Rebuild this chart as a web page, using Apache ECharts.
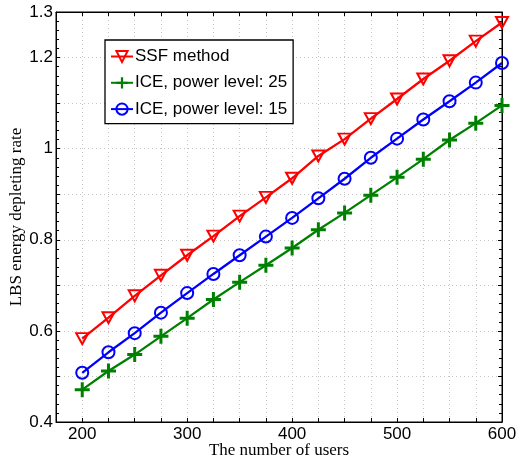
<!DOCTYPE html>
<html>
<head>
<meta charset="utf-8">
<script src="https://cdn.jsdelivr.net/npm/echarts@6/dist/echarts.min.js"></script>
<style>
html, body { margin: 0; padding: 0; background: #fff; }
#main { width: 517px; height: 459px; }
</style>
</head>
<body>
<div id="main"></div>
<script>
var chart = echarts.init(document.getElementById('main'));

// number of users (x)
var users = [200, 225, 250, 275, 300, 325, 350, 375, 400, 425, 450, 475, 500, 525, 550, 575, 600];
// LBS energy depleting rate
var ssf = [0.583, 0.629, 0.677, 0.722, 0.766, 0.808, 0.852, 0.893, 0.935, 0.984, 1.021, 1.066, 1.109, 1.153, 1.193, 1.236, 1.277];
var ice25 = [0.471, 0.512, 0.548, 0.588, 0.628, 0.669, 0.707, 0.744, 0.782, 0.822, 0.859, 0.898, 0.937, 0.977, 1.019, 1.056, 1.095];
var ice15 = [0.508, 0.553, 0.595, 0.640, 0.683, 0.725, 0.766, 0.807, 0.848, 0.891, 0.934, 0.980, 1.022, 1.064, 1.104, 1.145, 1.188];
var xTickLabels = [200, 300, 400, 500, 600];
var yTickLabels = [0.4, 0.6, 0.8, 1, 1.2, 1.3];

var sans = 'Liberation Sans, Arial, Helvetica, sans-serif';
var serif = 'Liberation Serif, Times New Roman, serif';
var plusPath = 'path://M4,0H6V4H10V6H6V10H4V6H0V4H4Z';

function pairs(ys) {
    return users.map(function (u, i) { return [u, ys[i]]; });
}

var gridLine = { show: true, lineStyle: { color: '#c4c4c4', type: [1, 3], width: 1 } };

var option = {
    animation: false,
    backgroundColor: '#fff',
    grid: {
        left: 56, right: 15, top: 12, bottom: 37,
        outerBoundsMode: 'none', containLabel: false,
        show: true, borderColor: '#000', borderWidth: 1
    },
    legend: {
        orient: 'vertical',
        left: 105, top: 40,
        padding: [8, 6, 6, 5],
        itemWidth: 22, itemHeight: 14, itemGap: 9.3,
        backgroundColor: '#fff',
        borderColor: '#000', borderWidth: 1.3,
        textStyle: { fontFamily: sans, fontSize: 17, color: '#000', padding: [0, 0, 0, -3] },
        data: ['SSF method', 'ICE, power level: 25', 'ICE, power level: 15']
    },
    xAxis: [{
        type: 'value', min: 175, max: 600, interval: 25,
        name: 'The number of users', nameLocation: 'middle', nameGap: 20,
        nameMoveOverlap: false,
        nameTextStyle: { fontFamily: serif, fontSize: 17, color: '#000' },
        axisLine: { lineStyle: { color: '#000' } },
        axisTick: { inside: true, length: 4, lineStyle: { color: '#000' } },
        axisLabel: {
            fontFamily: sans, fontSize: 17, color: '#000', margin: 4,
            formatter: function (v) { return xTickLabels.indexOf(v) >= 0 ? String(v) : ''; }
        },
        splitLine: gridLine
    }, {
        type: 'value', min: 175, max: 600, interval: 25, position: 'top',
        axisLine: { lineStyle: { color: '#000' } },
        axisTick: { inside: true, length: 4, lineStyle: { color: '#000' } },
        axisLabel: { show: false }, splitLine: { show: false }
    }],
    yAxis: [{
        type: 'value', min: 0.4, max: 1.3, interval: 0.1,
        name: 'LBS energy depleting rate', nameLocation: 'middle', nameGap: 31,
        nameMoveOverlap: false,
        nameTextStyle: { fontFamily: serif, fontSize: 17, color: '#000' },
        axisLine: { show: true, lineStyle: { color: '#000' } },
        axisTick: { inside: true, length: 4, lineStyle: { color: '#000' } },
        minorTick: { show: true, splitNumber: 5, length: 3, lineStyle: { color: '#000' } },
        axisLabel: {
            fontFamily: sans, fontSize: 17, color: '#000', margin: 3,
            formatter: function (v) {
                var r = Math.round(v * 10) / 10;
                return yTickLabels.indexOf(r) >= 0 ? String(r) : '';
            }
        },
        splitLine: gridLine
    }, {
        type: 'value', min: 0.4, max: 1.3, interval: 0.1, position: 'right',
        axisLine: { show: true, lineStyle: { color: '#000' } },
        axisTick: { inside: true, length: 4, lineStyle: { color: '#000' } },
        minorTick: { show: true, splitNumber: 5, length: 3, lineStyle: { color: '#000' } },
        axisLabel: { show: false }, splitLine: { show: false }
    }],
    series: [{
        name: 'SSF method', type: 'line', data: pairs(ssf),
        symbol: 'triangle', symbolRotate: 180, symbolSize: [12, 11],
        lineStyle: { color: '#ff0000', width: 2.3 },
        itemStyle: { color: 'rgba(255,255,255,0)', borderColor: '#ff0000', borderWidth: 2 }
    }, {
        name: 'ICE, power level: 25', type: 'line', data: pairs(ice25),
        symbol: plusPath, symbolSize: 15,
        lineStyle: { color: '#008000', width: 2.3 },
        itemStyle: { color: '#008000', borderWidth: 0 }
    }, {
        name: 'ICE, power level: 15', type: 'line', data: pairs(ice15),
        symbol: 'circle', symbolSize: 12,
        lineStyle: { color: '#0000ff', width: 2.3 },
        itemStyle: { color: 'rgba(255,255,255,0)', borderColor: '#0000ff', borderWidth: 2 }
    }]
};

chart.setOption(option);
</script>
</body>
</html>
